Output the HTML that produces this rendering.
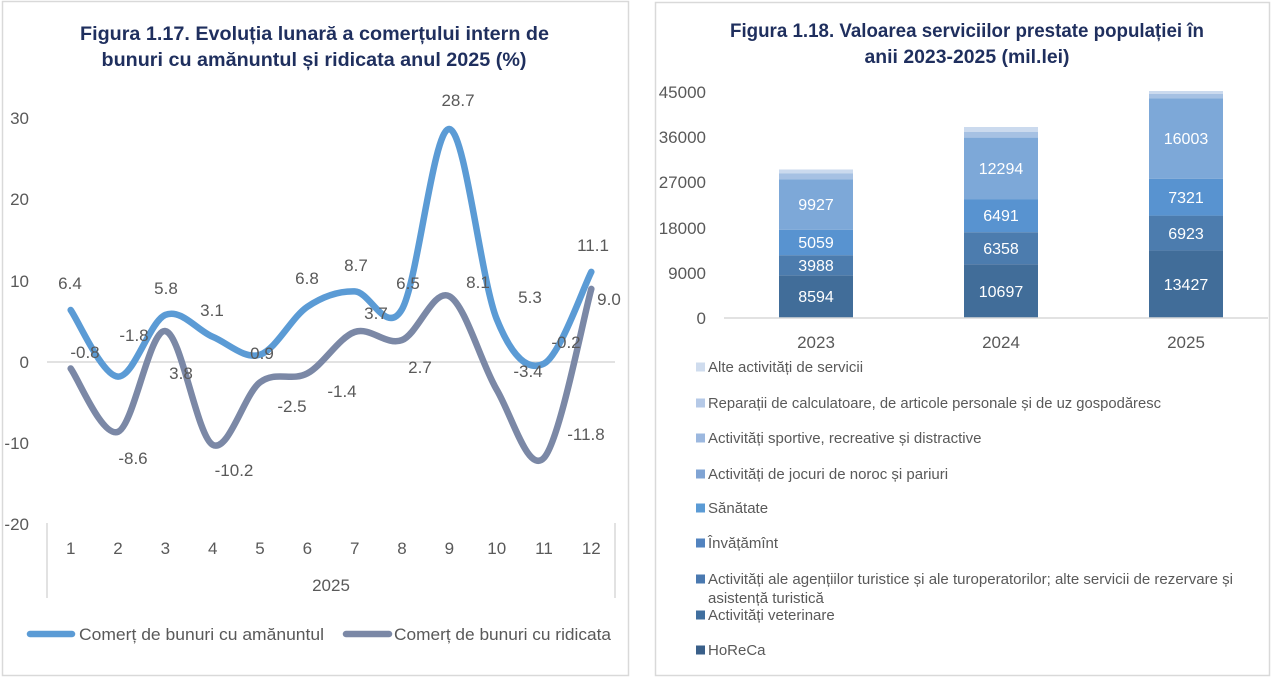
<!DOCTYPE html>
<html><head><meta charset="utf-8"><style>
html,body{margin:0;padding:0;background:#fff;}
svg{display:block;}
text{font-family:"Liberation Sans",Arial,sans-serif;}
</style></head><body>
<svg width="1280" height="677" viewBox="0 0 1280 677" xmlns="http://www.w3.org/2000/svg">
<rect x="0" y="0" width="1280" height="677" fill="#fff"/>
<!-- panel borders -->
<rect x="2.5" y="1.5" width="626" height="674" fill="none" stroke="#d9d9d9" stroke-width="1.5"/>
<rect x="655.5" y="2.5" width="614" height="673" fill="none" stroke="#d9d9d9" stroke-width="1.5"/>

<!-- LEFT CHART -->
<g fill="#1f2f5e" font-weight="bold" font-size="19" text-anchor="middle">
<text x="314.5" y="40" textLength="469" lengthAdjust="spacingAndGlyphs">Figura 1.17. Evoluția lunară a comerțului intern de</text>
<text x="314" y="66" textLength="425" lengthAdjust="spacingAndGlyphs">bunuri cu amănuntul și ridicata anul 2025 (%)</text>
</g>
<g fill="#595959" font-size="17" text-anchor="end">
<text x="29" y="124">30</text>
<text x="29" y="205">20</text>
<text x="29" y="287">10</text>
<text x="29" y="368">0</text>
<text x="29" y="449">-10</text>
<text x="29" y="530">-20</text>
</g>
<line x1="47" y1="362" x2="615" y2="362" stroke="#d9d9d9" stroke-width="1.5"/>
<line x1="47" y1="523" x2="47" y2="598" stroke="#d9d9d9" stroke-width="1.5"/>
<line x1="615" y1="523" x2="615" y2="598" stroke="#d9d9d9" stroke-width="1.5"/>
<g fill="#595959" font-size="17" text-anchor="middle">
<text x="70.7" y="554">1</text>
<text x="118" y="554">2</text>
<text x="165.3" y="554">3</text>
<text x="212.7" y="554">4</text>
<text x="260" y="554">5</text>
<text x="307.3" y="554">6</text>
<text x="354.7" y="554">7</text>
<text x="402" y="554">8</text>
<text x="449.3" y="554">9</text>
<text x="496.7" y="554">10</text>
<text x="544" y="554">11</text>
<text x="591.3" y="554">12</text>
<text x="331" y="591">2025</text>
</g>
<path d="M70.67,310 C78.56,321.1 102.22,375.8 118,376.6 C133.78,377.4 149.55,321.5 165.33,314.9 C181.11,308.3 196.89,330.2 212.67,336.8 C228.45,343.4 244.22,359.7 260,354.7 C275.78,349.7 291.55,317.4 307.33,306.8 C323.11,296.2 338.89,291.0 354.67,291.4 C370.45,291.8 386.22,336.3 402,309.2 C417.78,282.1 433.55,127.4 449.33,129 C465.11,130.6 480.89,279.9 496.67,319 C512.45,358.1 528.22,371.5 544,363.6 C559.78,355.75 583.44,287.2 591.33,271.9" fill="none" stroke="#5b9bd5" stroke-width="6.5" stroke-linecap="round" stroke-linejoin="round"/>
<path d="M70.67,368.5 C78.56,379.05 102.22,438 118,431.8 C133.78,425.6 149.55,328.9 165.33,331.1 C181.11,333.3 196.89,436.3 212.67,444.8 C228.45,453.3 244.22,394.2 260,382.3 C275.78,370.4 291.55,381.8 307.33,373.4 C323.11,365 338.89,337.55 354.67,332 C370.45,326.45 386.22,346.1 402,340.1 C417.78,334.1 433.55,287.95 449.33,296.2 C465.11,304.45 480.89,362.7 496.67,389.6 C512.45,416.5 528.22,474.6 544,457.8 C559.78,441 583.44,317.05 591.33,288.9" fill="none" stroke="#7b88a6" stroke-width="6.5" stroke-linecap="round" stroke-linejoin="round"/>
<g fill="#595959" font-size="17" text-anchor="middle">
<text x="70" y="289">6.4</text>
<text x="134" y="341">-1.8</text>
<text x="166" y="294">5.8</text>
<text x="212" y="316">3.1</text>
<text x="262" y="359">0.9</text>
<text x="307" y="284">6.8</text>
<text x="356" y="271">8.7</text>
<text x="408" y="289">6.5</text>
<text x="458" y="106">28.7</text>
<text x="530" y="303">5.3</text>
<text x="566" y="348">-0.2</text>
<text x="593" y="251">11.1</text>
<text x="85" y="358">-0.8</text>
<text x="133" y="464">-8.6</text>
<text x="181" y="379">3.8</text>
<text x="234" y="476">-10.2</text>
<text x="292" y="412">-2.5</text>
<text x="342" y="397">-1.4</text>
<text x="376" y="319">3.7</text>
<text x="420" y="373">2.7</text>
<text x="478" y="288">8.1</text>
<text x="528" y="377">-3.4</text>
<text x="586" y="440">-11.8</text>
<text x="609" y="305">9.0</text>
</g>
<!-- left legend -->
<line x1="30" y1="634" x2="72" y2="634" stroke="#5b9bd5" stroke-width="6.5" stroke-linecap="round"/>
<line x1="346" y1="634" x2="389" y2="634" stroke="#7b88a6" stroke-width="6.5" stroke-linecap="round"/>
<g fill="#595959" font-size="17">
<text x="79" y="640" textLength="245" lengthAdjust="spacingAndGlyphs">Comerț de bunuri cu amănuntul</text>
<text x="394" y="640" textLength="217" lengthAdjust="spacingAndGlyphs">Comerț de bunuri cu ridicata</text>
</g>

<!-- RIGHT CHART -->
<g fill="#1f2f5e" font-weight="bold" font-size="19" text-anchor="middle">
<text x="967" y="37" textLength="474" lengthAdjust="spacingAndGlyphs">Figura 1.18. Valoarea serviciilor prestate populației în</text>
<text x="967" y="63" textLength="205" lengthAdjust="spacingAndGlyphs">anii 2023-2025 (mil.lei)</text>
</g>
<g fill="#595959" font-size="17" text-anchor="end">
<text x="706" y="98">45000</text>
<text x="706" y="143">36000</text>
<text x="706" y="188">27000</text>
<text x="706" y="234">18000</text>
<text x="706" y="279">9000</text>
<text x="706" y="324">0</text>
</g>
<!-- bars 2023 -->
<rect x="779" y="275.3" width="74" height="42.7" fill="#416d99"/>
<rect x="779" y="255.2" width="74" height="20.1" fill="#4c7cae"/>
<rect x="779" y="229.7" width="74" height="25.5" fill="#5893d0"/>
<rect x="779" y="179.2" width="74" height="50.5" fill="#7da8d8"/>
<rect x="779" y="173.5" width="74" height="5.7" fill="#a6c1e3"/>
<rect x="779" y="169.5" width="74" height="4" fill="#cbdaee"/>
<!-- bars 2024 -->
<rect x="964" y="264.2" width="74" height="53.8" fill="#416d99"/>
<rect x="964" y="232.2" width="74" height="32" fill="#4c7cae"/>
<rect x="964" y="199.5" width="74" height="32.7" fill="#5893d0"/>
<rect x="964" y="137.6" width="74" height="61.9" fill="#7da8d8"/>
<rect x="964" y="132" width="74" height="5.6" fill="#a6c1e3"/>
<rect x="964" y="127" width="74" height="5" fill="#cbdaee"/>
<!-- bars 2025 -->
<rect x="1149" y="250.4" width="74" height="67.6" fill="#416d99"/>
<rect x="1149" y="215.6" width="74" height="34.8" fill="#4c7cae"/>
<rect x="1149" y="178.7" width="74" height="36.9" fill="#5893d0"/>
<rect x="1149" y="98.2" width="74" height="80.5" fill="#7da8d8"/>
<rect x="1149" y="94" width="74" height="4.2" fill="#a6c1e3"/>
<rect x="1149" y="91" width="74" height="3" fill="#cbdaee"/>
<line x1="724" y1="318" x2="1268" y2="318" stroke="#d9d9d9" stroke-width="1.5"/>
<g fill="#ffffff" font-size="16" text-anchor="middle">
<text x="816" y="302">8594</text>
<text x="816" y="271">3988</text>
<text x="816" y="248">5059</text>
<text x="816" y="210">9927</text>
<text x="1001" y="297">10697</text>
<text x="1001" y="254">6358</text>
<text x="1001" y="221">6491</text>
<text x="1001" y="174">12294</text>
<text x="1186" y="290">13427</text>
<text x="1186" y="239">6923</text>
<text x="1186" y="203">7321</text>
<text x="1186" y="144">16003</text>
</g>
<g fill="#595959" font-size="17" text-anchor="middle">
<text x="816" y="348">2023</text>
<text x="1001" y="348">2024</text>
<text x="1186" y="348">2025</text>
</g>
<!-- right legend -->
<rect x="696" y="362.5" width="9" height="9" fill="#cfdcee"/>
<rect x="696" y="398.5" width="9" height="9" fill="#b5c9e7"/>
<rect x="696" y="433.5" width="9" height="9" fill="#9cb8df"/>
<rect x="696" y="469.5" width="9" height="9" fill="#80a4d4"/>
<rect x="696" y="503.5" width="9" height="9" fill="#5b9bd5"/>
<rect x="696" y="538.5" width="9" height="9" fill="#5283bf"/>
<rect x="696" y="574.5" width="9" height="9" fill="#4a79b0"/>
<rect x="696" y="610.5" width="9" height="9" fill="#406f9f"/>
<rect x="696" y="645.5" width="9" height="9" fill="#395f89"/>
<g fill="#595959" font-size="15">
<text x="708" y="372">Alte activități de servicii</text>
<text x="708" y="408" textLength="453" lengthAdjust="spacingAndGlyphs">Reparații de calculatoare, de articole personale și de uz gospodăresc</text>
<text x="708" y="443">Activități sportive, recreative și distractive</text>
<text x="708" y="479">Activități de jocuri de noroc și pariuri</text>
<text x="708" y="513">Sănătate</text>
<text x="708" y="548">Învățămînt</text>
<text x="708" y="584" textLength="525" lengthAdjust="spacingAndGlyphs">Activități ale agențiilor turistice și ale turoperatorilor; alte servicii de rezervare și</text>
<text x="708" y="603">asistență turistică</text>
<text x="708" y="620">Activități veterinare</text>
<text x="708" y="655">HoReCa</text>
</g>
</svg>
</body></html>
